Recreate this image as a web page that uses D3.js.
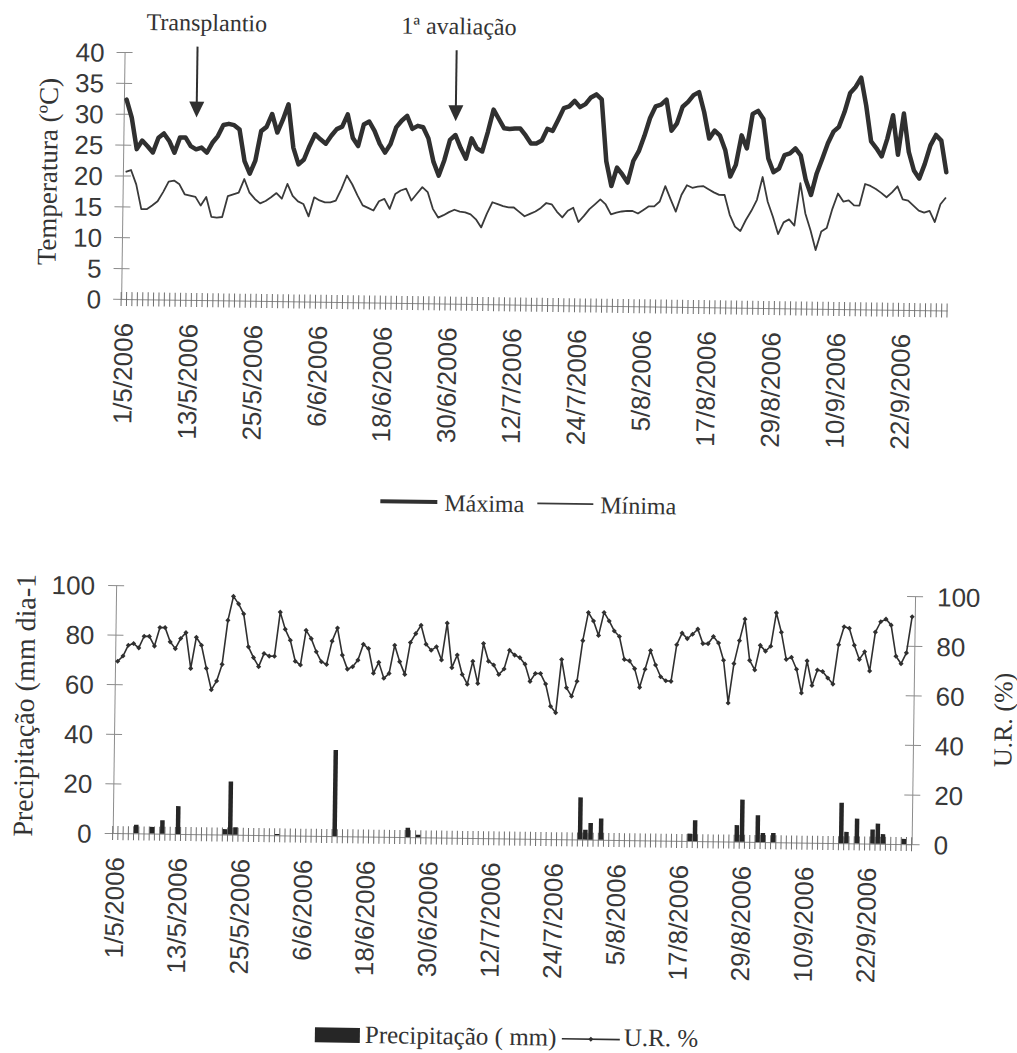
<!DOCTYPE html>
<html>
<head>
<meta charset="utf-8">
<title>Temperatura, precipitação e U.R. - maio a setembro de 2006</title>
<script src="https://cdn.jsdelivr.net/npm/d3@7"></script>
<style>
	body { margin: 0; background: #fff; }
	svg { display: block; }
	.serif { font-family: "Liberation Serif", "Times New Roman", serif; fill: #333; }
	.sans { font-family: "Liberation Sans", Arial, sans-serif; fill: #383838; }
</style>
</head>
<body>
<svg id="chart" width="1017" height="1053"></svg>
<script>
'use strict'

/* ================================ Data (daily, 1/5/2006 - 30/9/2006) ================================ */

var tickLabels = ["1/5/2006", "13/5/2006", "25/5/2006", "6/6/2006", "18/6/2006", "30/6/2006", "12/7/2006",
	"24/7/2006", "5/8/2006", "17/8/2006", "29/8/2006", "10/9/2006", "22/9/2006"];

// temperatura máxima (ºC)
var tempMax = [
	32.3, 29.4, 24.3, 25.7, 24.8, 23.8, 26.2, 26.9, 25.7, 23.8,
	26.3, 26.3, 24.9, 24.4, 24.7, 23.9, 25.5, 26.6, 28.4, 28.6,
	28.4, 27.7, 22.6, 20.6, 22.7, 27.5, 28.2, 30.3, 27.3, 29.4,
	31.9, 24.9, 22.2, 23.0, 25.2, 27.1, 26.3, 25.6, 26.9, 28.0,
	28.4, 30.4, 26.6, 25.3, 28.8, 29.3, 27.8, 25.7, 24.3, 25.7,
	28.4, 29.5, 30.3, 28.2, 28.7, 28.5, 26.7, 22.9, 20.7, 23.2,
	26.5, 27.3, 25.2, 23.5, 26.8, 25.2, 24.7, 27.9, 31.5, 30.0,
	28.5, 28.4, 28.5, 28.5, 27.4, 26.1, 26.1, 26.6, 28.5, 28.2,
	30.0, 31.9, 32.2, 33.1, 32.1, 32.6, 33.7, 34.2, 33.4, 23.4,
	19.4, 22.4, 21.3, 20.0, 23.5, 25.1, 27.6, 30.5, 32.4, 32.7,
	33.5, 28.5, 29.7, 32.4, 33.2, 34.3, 34.8, 31.6, 27.3, 28.6,
	27.8, 25.5, 21.2, 23.1, 27.9, 25.8, 31.4, 31.9, 30.6, 24.2,
	22.0, 22.6, 24.8, 25.1, 25.9, 24.8, 20.8, 18.4, 21.9, 24.3,
	26.8, 28.7, 29.5, 31.9, 35.0, 36.0, 37.5, 33.0, 27.2, 26.1,
	24.8, 27.7, 31.5, 25.1, 31.8, 25.6, 22.6, 21.3, 23.7, 26.7,
	28.4, 27.5, 22.4
];

// temperatura mínima (ºC)
var tempMin = [
	20.6, 20.9, 18.6, 14.6, 14.6, 15.2, 15.9, 17.4, 19.1, 19.3,
	18.7, 17.1, 16.9, 16.7, 15.3, 16.7, 13.5, 13.4, 13.5, 16.9,
	17.2, 17.5, 19.7, 17.5, 16.5, 15.8, 16.2, 16.8, 17.5, 16.6,
	19.0, 17.1, 16.2, 15.8, 13.8, 16.9, 16.4, 16.1, 16.1, 16.4,
	18.3, 20.5, 19.1, 17.3, 15.7, 15.3, 14.9, 16.4, 16.8, 15.2,
	17.6, 18.2, 18.5, 16.6, 17.7, 18.8, 18.0, 15.3, 13.9, 14.3,
	14.8, 15.2, 14.9, 14.8, 14.5, 13.7, 12.4, 14.6, 16.5, 16.2,
	15.9, 15.7, 15.7, 15.0, 14.3, 14.7, 15.1, 15.7, 16.5, 16.3,
	15.1, 14.2, 15.3, 15.8, 13.5, 14.5, 15.6, 16.4, 17.2, 16.4,
	14.8, 15.1, 15.3, 15.4, 15.4, 15.0, 15.6, 16.2, 16.2, 17.0,
	19.5, 17.4, 15.4, 18.1, 19.7, 19.3, 19.5, 19.6, 19.1, 18.6,
	18.2, 18.2, 15.0, 13.1, 12.4, 14.2, 15.7, 17.5, 21.2, 17.2,
	14.8, 12.0, 13.9, 14.4, 13.4, 20.3, 15.4, 12.7, 9.5, 12.5,
	13.1, 16.2, 18.7, 17.4, 17.6, 16.8, 16.8, 20.3, 20.0, 19.5,
	18.9, 18.2, 19.0, 20.0, 17.9, 17.7, 16.9, 16.1, 15.8, 16.1,
	14.3, 17.2, 18.3
];

// precipitação (mm)
var precip = [
	0, 0, 0, 0, 3.5, 0, 0, 2.7, 0, 5.4,
	0, 0, 11.2, 0, 0, 0, 0, 0, 0, 0,
	0, 2.2, 21.4, 3, 0, 0, 0, 0, 0, 0,
	0, 0.5, 0, 0, 0, 0, 0, 0, 0, 0,
	0, 0, 34.7, 0, 0, 0, 0, 0, 0, 0,
	0, 0, 0, 0, 0, 0, 3.8, 0, 1, 0,
	0, 0, 0, 0, 0, 0, 0, 0, 0, 0,
	0, 0, 0, 0, 0, 0, 0, 0, 0, 0,
	0, 0, 0, 0, 0, 0, 0, 0, 0, 17,
	4, 6.7, 0, 8.6, 0, 0, 0, 0, 0, 0,
	0, 0, 0, 0, 0, 0, 0, 0, 0, 0,
	3, 8.4, 0, 0, 0, 0, 0, 0, 0, 6.7,
	17, 0, 0, 10.8, 3.7, 0, 3.7, 0, 0, 0,
	0, 0, 0, 0, 0, 0, 0, 0, 0, 16.3,
	4.6, 0, 10, 0, 0, 5.7, 8.1, 3.9, 0, 0,
	0, 2.1, 0
];

// umidade relativa (%)
var humidity = [
	69.3, 71.4, 75.8, 76.5, 74.8, 79.5, 79.5, 75.6, 83.1, 83.1,
	77.4, 74.7, 78.8, 81.2, 66.8, 79.4, 76.2, 66.9, 58.3, 61.9,
	68.6, 86.4, 96.1, 93.1, 89.1, 75.8, 71.5, 67.9, 73.2, 72.2,
	72.2, 90.0, 83.1, 78.7, 70.3, 68.8, 82.8, 79.5, 74.2, 70.2,
	69.2, 78.6, 83.9, 73.0, 67.4, 68.4, 71.1, 77.5, 75.8, 65.9,
	70.3, 63.9, 65.9, 77.3, 70.7, 65.6, 78.5, 82.1, 85.5, 77.9,
	75.5, 76.9, 71.6, 86.5, 68.6, 73.7, 65.9, 62.0, 71.3, 62.4,
	78.5, 71.4, 69.9, 66.1, 68.3, 75.9, 74.0, 73.0, 70.4, 63.5,
	66.7, 66.7, 62.5, 53.6, 51.0, 72.5, 61.1, 57.7, 63.8, 80.2,
	91.6, 88.2, 82.4, 91.7, 88.3, 84.3, 82.1, 72.9, 72.3, 69.2,
	61.7, 69.0, 76.6, 70.8, 66.1, 64.5, 64.3, 79.1, 83.8, 81.6,
	83.4, 85.5, 79.7, 79.7, 82.6, 80.0, 73.1, 55.9, 71.8, 81.1,
	89.8, 73.2, 69.4, 79.3, 77.0, 79.0, 92.5, 84.7, 73.8, 74.7,
	69.9, 60.3, 73.3, 63.4, 69.7, 69.1, 66.5, 64.1, 80.0, 87.3,
	86.7, 79.9, 74.2, 77.3, 69.6, 85.3, 89.5, 90.6, 88.2, 75.7,
	72.7, 77.1, 91.7
];

var notes = [
	{ label: "Transplantio", day: "14/5/2006" },
	{ label: "1ª avaliação", day: "1/7/2006" }
];

/* ================================ Setup ================================ */

var ink = '#303030';
var axisGrey = '#8c8c8c';
var tickGrey = '#6e6e6e';

var days = d3.timeDay.range(new Date(2006, 4, 1), new Date(2006, 9, 1)).map(d3.timeFormat('%-d/%-m/%Y'));

var svg = d3.select('#chart');
svg.append('rect').attr('width', 1017).attr('height', 1053).attr('fill', '#fff');
// the printed figure was scanned a little crooked, keep the same tilt
var page = svg.append('g').attr('transform', 'rotate(0.8,508,526)');

// category axis with a cross tick on every day boundary and vertical date labels
function drawDateAxis(g, x, y0){
	var ax = g.append('g').attr('transform', 'translate(0,' + y0 + ')')
		.call(d3.axisBottom(x).tickValues(tickLabels).tickSize(0).tickSizeOuter(0).tickPadding(0));
	ax.select('.domain').attr('stroke', axisGrey);
	ax.selectAll('.tick text')
		.attr('class', 'sans')
		.attr('font-size', 26)
		.attr('transform', 'rotate(-90)')
		.attr('x', -24)
		.attr('y', 0)
		.attr('dy', '0.35em')
		.style('text-anchor', 'end');

	var edges = x.domain().map(function(d){ return x(d); }).concat([x.range()[1]]);
	ax.selectAll('.day-tick').data(edges).enter().append('line')
		.attr('class', 'day-tick')
		.attr('x1', function(d){ return d; })
		.attr('x2', function(d){ return d; })
		.attr('y1', -7)
		.attr('y2', 7)
		.attr('stroke', tickGrey)
		.attr('stroke-width', 1);
}

// value axis, ticks cross the axis line
function drawValueAxis(g, y, x0, ticks, side, pad){
	var axis = side === 'left' ? d3.axisLeft(y) : d3.axisRight(y);
	var ax = g.append('g').attr('transform', 'translate(' + x0 + ',0)')
		.call(axis.tickValues(ticks).tickSize(0).tickSizeOuter(0).tickPadding(pad));
	ax.select('.domain').attr('stroke', axisGrey);
	ax.selectAll('.tick line').attr('x1', -8).attr('x2', 8).attr('stroke', axisGrey);
	ax.selectAll('.tick text')
		.attr('class', 'sans')
		.attr('font-size', 26)
		.attr('dy', '0.36em');
}

function vTitle(g, text, x, y, size){
	g.append('text')
		.attr('class', 'serif')
		.attr('font-size', size)
		.attr('text-anchor', 'middle')
		.attr('dominant-baseline', 'central')
		.attr('transform', 'translate(' + x + ',' + y + ') rotate(-90)')
		.text(text);
}

/* ================================ Temperatura ================================ */

var xTop = d3.scaleBand().domain(days).range([118, 944]);
var yTemp = d3.scaleLinear().domain([0, 40]).range([304.4, 57.4]);
var tempPanel = page.append('g');

drawValueAxis(tempPanel, yTemp, 118, d3.range(0, 41, 5), 'left', 20);
drawDateAxis(tempPanel, xTop, yTemp(0));
vTitle(tempPanel, 'Temperatura (ºC)', 43, 178, 27);

function tempLine(x, y){
	return d3.line()
		.x(function(d, i){ return x(days[i]) + x.bandwidth() / 2; })
		.y(function(d){ return y(d); });
}

tempPanel.append('path').datum(tempMin)
	.attr('d', tempLine(xTop, yTemp))
	.attr('fill', 'none').attr('stroke', '#3a3a3a').attr('stroke-width', 1.8)
	.attr('stroke-linejoin', 'round');

tempPanel.append('path').datum(tempMax)
	.attr('d', tempLine(xTop, yTemp))
	.attr('fill', 'none').attr('stroke', ink).attr('stroke-width', 4.5)
	.attr('stroke-linejoin', 'round').attr('stroke-linecap', 'round');

// annotation arrows
var noteG = tempPanel.selectAll('.note').data(notes).enter().append('g')
	.attr('class', 'note')
	.attr('transform', function(d){ return 'translate(' + (xTop(d.day) + xTop.bandwidth() / 2) + ',0)'; });
noteG.append('text')
	.attr('class', 'serif')
	.attr('font-size', 24)
	.attr('text-anchor', 'middle')
	.attr('x', function(d, i){ return i === 0 ? 9 : 2; })
	.attr('y', 35)
	.text(function(d){ return d.label; });
noteG.append('line')
	.attr('y1', 51).attr('y2', 110)
	.attr('stroke', ink).attr('stroke-width', 2);
noteG.append('path')
	.attr('d', 'M-7.5,106 L7.5,106 L0,122 Z')
	.attr('fill', ink);

// legend
var legTop = tempPanel.append('g');
legTop.append('line').attr('x1', 380).attr('x2', 437).attr('y1', 503).attr('y2', 503)
	.attr('stroke', ink).attr('stroke-width', 4);
legTop.append('text').attr('class', 'serif').attr('font-size', 24)
	.attr('x', 444).attr('y', 512).text('Máxima');
legTop.append('line').attr('x1', 537).attr('x2', 593).attr('y1', 503).attr('y2', 503)
	.attr('stroke', '#3a3a3a').attr('stroke-width', 1.8);
legTop.append('text').attr('class', 'serif').attr('font-size', 24)
	.attr('x', 600).attr('y', 512).text('Mínima');

/* ================================ Precipitação e U.R. ================================ */

var xBot = d3.scaleBand().domain(days).range([117, 916]);
var yRain = d3.scaleLinear().domain([0, 100]).range([838.5, 590.5]);
var yHum = d3.scaleLinear().domain([0, 100]).range([838.5, 590.5]);
var rainPanel = page.append('g');

drawValueAxis(rainPanel, yRain, 117, d3.range(0, 101, 20), 'left', 21);
drawValueAxis(rainPanel, yHum, 916, d3.range(0, 101, 20), 'right', 22);
drawDateAxis(rainPanel, xBot, yRain(0));
vTitle(rainPanel, 'Precipitação (mm dia-1', 27, 712, 28);
vTitle(rainPanel, 'U.R. (%)', 1006, 713, 26);

var bw = xBot.bandwidth();
// keep the day with each rain value, dry days get no bar
var rainDays = precip.map(function(v, i){ return { day: days[i], value: v }; })
	.filter(function(d){ return d.value > 0; });

rainPanel.selectAll('.bar').data(rainDays).enter().append('rect')
	.attr('class', 'bar')
	.attr('x', function(d){ return xBot(d.day) + bw * 0.07; })
	.attr('width', bw * 0.86)
	.attr('y', function(d){ return yRain(d.value); })
	.attr('height', function(d){ return yRain(0) - yRain(d.value); })
	.attr('fill', '#262626');

var humLine = d3.line()
	.x(function(d, i){ return xBot(days[i]) + bw / 2; })
	.y(function(d){ return yHum(d); });

rainPanel.append('path').datum(humidity)
	.attr('d', humLine)
	.attr('fill', 'none').attr('stroke', ink).attr('stroke-width', 1.6)
	.attr('stroke-linejoin', 'round');

var diamond = d3.symbol().type(d3.symbolSquare).size(13);
rainPanel.selectAll('.mark').data(humidity).enter().append('path')
	.attr('class', 'mark')
	.attr('d', diamond)
	.attr('transform', function(d, i){
		return 'translate(' + (xBot(days[i]) + bw / 2) + ',' + yHum(d) + ') rotate(45)';
	})
	.attr('fill', ink);

// legend
var legBot = rainPanel.append('g');
legBot.append('rect').attr('x', 322).attr('y', 1030).attr('width', 45).attr('height', 15)
	.attr('fill', '#262626');
legBot.append('text').attr('class', 'serif').attr('font-size', 25)
	.attr('x', 372).attr('y', 1045).text('Precipitação ( mm)');
legBot.append('line').attr('x1', 569).attr('x2', 627).attr('y1', 1038).attr('y2', 1038)
	.attr('stroke', ink).attr('stroke-width', 1.6);
legBot.append('path').attr('d', diamond)
	.attr('transform', 'translate(598,1038) rotate(45)').attr('fill', ink);
legBot.append('text').attr('class', 'serif').attr('font-size', 25)
	.attr('x', 631).attr('y', 1044).text('U.R. %');
</script>
</body>
</html>
